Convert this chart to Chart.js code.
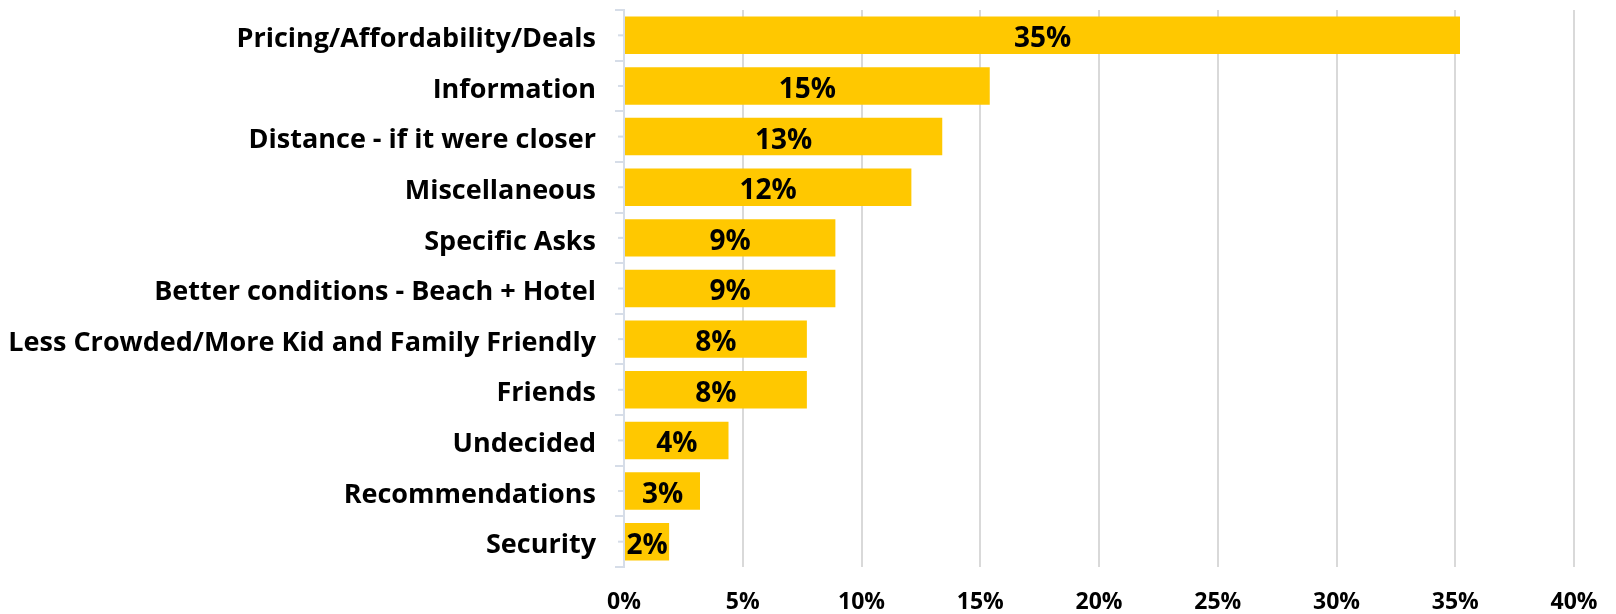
<!DOCTYPE html>
<html>
<head>
<meta charset="utf-8">
<script src="https://cdn.jsdelivr.net/npm/chart.js@4.4.1/dist/chart.umd.min.js"></script>
<style>
  html, body { margin: 0; padding: 0; background: #fff; }
  #wrap { width: 1616px; height: 614px; }
</style>
</head>
<body>
<div id="wrap"><canvas id="reasonChart" width="1616" height="614"></canvas></div>
<script>
const categories = [
    "Pricing/Affordability/Deals",
    "Information",
    "Distance - if it were closer",
    "Miscellaneous",
    "Specific Asks",
    "Better conditions - Beach + Hotel",
    "Less Crowded/More Kid and Family Friendly",
    "Friends",
    "Undecided",
    "Recommendations",
    "Security"
];
const shares = [35.2, 15.4, 13.4, 12.1, 8.9, 8.9, 7.7, 7.7, 4.4, 3.2, 1.9];
const xTicks = [0, 5, 10, 15, 20, 25, 30, 35, 40];

const FONT = "'Open Sans', Lato, sans-serif";
const AXIS_BLUE = "#d6dde8";

// value labels centred in each bar + short centre ticks on the y axis
const barLabels = {
    id: "barLabels",
    afterDatasetsDraw(chart) {
        const ctx = chart.ctx;
        const meta = chart.getDatasetMeta(0);
        const yScale = chart.scales.y;
        ctx.save();
        ctx.strokeStyle = AXIS_BLUE;
        ctx.lineWidth = 2;
        yScale.ticks.forEach((t, i) => {
            const py = yScale.getPixelForTick(i);
            ctx.beginPath();
            ctx.moveTo(yScale.right - 6, py);
            ctx.lineTo(yScale.right, py);
            ctx.stroke();
        });
        ctx.fillStyle = "#000";
        ctx.font = "bold 28px " + FONT;
        ctx.textAlign = "center";
        ctx.textBaseline = "middle";
        meta.data.forEach((bar, i) => {
            const cx = (bar.x + bar.base) / 2;
            ctx.fillText(Math.round(shares[i]) + "%", cx, bar.y + 4);
        });
        ctx.restore();
    }
};

new Chart(document.getElementById("reasonChart").getContext("2d"), {
    type: "bar",
    data: {
        labels: categories,
        datasets: [{
            data: shares,
            backgroundColor: "#FFC800",
            borderWidth: 0,
            categoryPercentage: 1,
            barPercentage: 0.74
        }]
    },
    options: {
        indexAxis: "y",
        responsive: false,
        animation: false,
        devicePixelRatio: 1,
        layout: { padding: { top: 10, right: 42, left: 0, bottom: 0 } },
        plugins: {
            legend: { display: false },
            tooltip: { enabled: false }
        },
        scales: {
            x: {
                min: 0,
                max: 40,
                afterBuildTicks: (scale) => {
                    scale.ticks = xTicks.map(v => ({ value: v }));
                },
                afterFit: (scale) => {
                    scale.height = 47;
                    scale.paddingLeft = 0;
                    scale.paddingRight = 0;
                },
                grid: {
                    color: "#d9d9d9",
                    lineWidth: 2,
                    drawTicks: false
                },
                border: { display: false },
                ticks: {
                    padding: 22,
                    color: "#000",
                    font: { family: FONT, size: 23, weight: "bold" },
                    callback: (v) => v + "%"
                }
            },
            y: {
                afterFit: (scale) => {
                    scale.width = 624;
                    scale.paddingTop = 0;
                    scale.paddingBottom = 0;
                },
                grid: {
                    offset: true,
                    drawOnChartArea: false,
                    drawTicks: true,
                    tickLength: 9,
                    color: AXIS_BLUE,
                    lineWidth: 2
                },
                border: { display: true, color: AXIS_BLUE, width: 2 },
                ticks: {
                    padding: 19,
                    labelOffset: 4,
                    color: "#000",
                    font: { family: FONT, size: 27, weight: "bold" }
                }
            }
        }
    },
    plugins: [barLabels]
});
</script>
</body>
</html>
